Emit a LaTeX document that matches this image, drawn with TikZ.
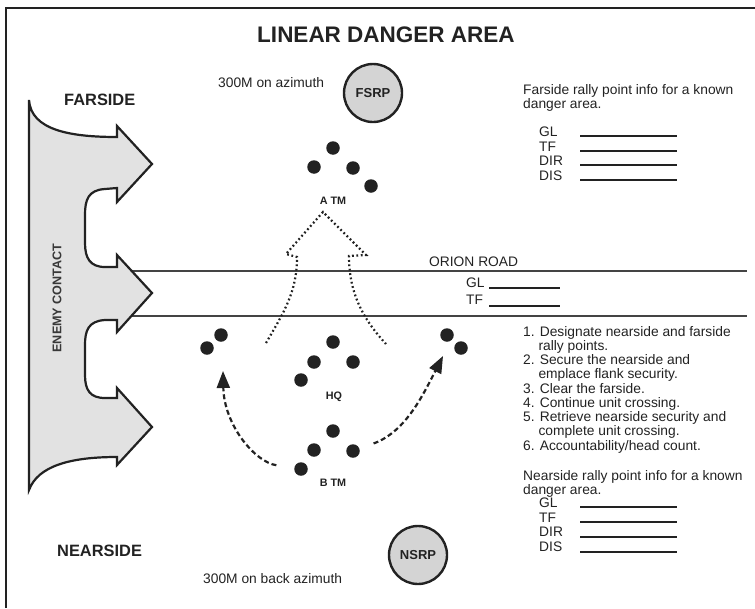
\documentclass[tikz,border=0pt]{standalone}
\usepackage{fontspec}
\setmainfont{Liberation Sans}
\usetikzlibrary{positioning, arrows.meta}
\definecolor{ldInk}{HTML}{222222}
\definecolor{ldRally}{HTML}{D4D4D4}
\definecolor{ldEnemy}{HTML}{E2E2E2}
\definecolor{ldRoad}{HTML}{444444}

\begin{document}
\begin{tikzpicture}[x=1pt, y=-1pt,
  soldier/.style={circle, fill=ldInk, inner sep=0pt, minimum size=13.5pt},
  rp/.style={circle, draw=ldInk, line width=2.4pt, fill=ldRally, minimum size=58pt, inner sep=0pt, text=ldInk, font=\bfseries\fontsize{13}{13}\selectfont},
  side/.style={anchor=base west, inner sep=0pt, text=ldInk, font=\bfseries\fontsize{16.4}{16}\selectfont},
  team/.style={inner sep=0pt, text=ldInk, font=\bfseries\fontsize{10.8}{11}\selectfont},
  txt/.style={anchor=base west, inner sep=0pt, text=ldInk, font=\fontsize{13.8}{14}\selectfont},
  info/.style={anchor=north west, inner sep=0pt, align=left, text=ldInk, font=\fontsize{13.8}{11.5}\selectfont},
  form/.style={anchor=north west, inner sep=0pt, align=left, text=ldInk, font=\fontsize{13.8}{14.4}\selectfont},
  blank/.style={draw=ldInk, line width=1.2pt},
  move/.style={draw=ldInk, line width=2.2pt, dash pattern=on 5pt off 3pt, -{Triangle[length=17pt, width=13pt]}},
  trail/.style={draw=ldInk, line width=2.2pt, dash pattern=on 1.8pt off 2.6pt}
]
\useasboundingbox (0,0) rectangle (755,608);
\draw[ldInk, line width=2pt] (6,608) -- (6,8) -- (755,8);

\node[anchor=base, inner sep=0pt, text=ldInk, font=\bfseries\fontsize{22.5}{22}\selectfont] (title) at (386,42) {LINEAR DANGER AREA};

% road
\draw[ldRoad, line width=1.3pt] (118,271) -- (747,271);
\draw[ldRoad, line width=1.3pt] (118,316) -- (747,316);
\node[txt] (road) at (429,266) {ORION ROAD};
\node[form, font=\fontsize{13.8}{16.5}\selectfont] (rdform) at (466,278) {GL\\TF};
\draw[blank] (489,288) -- (560,288);
\draw[blank] (489,306) -- (560,306);

% enemy contact
\draw[ldInk, line width=2.2pt, fill=ldEnemy, line join=miter]
  (29,100) .. controls (31,130) and (70,137) .. (117,137) -- (117,126) -- (152,164) -- (117,202) -- (117,188)
  -- (105,189) .. controls (88,190) and (85,200) .. (85,215) -- (85,243) .. controls (85,258) and (90,267) .. (105,267) -- (117,267)
  -- (117,255) -- (152,293) -- (117,332) -- (117,320)
  -- (105,320) .. controls (88,321) and (85,331) .. (85,345) -- (85,375) .. controls (85,390) and (90,398) .. (105,398) -- (117,398)
  -- (117,388) -- (152,427) -- (117,465) -- (117,457)
  .. controls (70,457) and (38,466) .. (29,490) -- cycle;
\node[rotate=90, inner sep=0pt, text=ldInk!90, font=\bfseries\fontsize{12.6}{12}\selectfont] (enemy) at (57,298) {ENEMY CONTACT};

% sides
\node[side] (far) at (64,105) {FARSIDE};
\node[side] (near) at (57,556) {NEARSIDE};
\node[txt] (azf) at (218,87) {300M on azimuth};
\node[txt] (azb) at (203,583) {300M on back azimuth};
\node[rp] (fsrp) at (373,93) {FSRP};
\node[rp] (nsrp) at (418,555) {NSRP};

% rally point info
\node[info] (fsinfo) at (523,84) {Farside rally point info for a known\\danger area.};
\node[form] (fsform) at (539,127) {GL\\TF\\DIR\\DIS};
\foreach \y in {136,151,165,180}
  \draw[blank] (580,\y) -- (677,\y);
\node[info, font=\fontsize{13.8}{14.25}\selectfont] (steps) at (523,326) {1. Designate nearside and farside\\\hphantom{1.\ }rally points.\\2. Secure the nearside and\\\hphantom{2.\ }emplace flank security.\\3. Clear the farside.\\4. Continue unit crossing.\\5. Retrieve nearside security and\\\hphantom{5.\ }complete unit crossing.\\6. Accountability/head count.};
\node[info] (nsinfo) at (523,470) {Nearside rally point info for a known\\danger area.};
\node[form] (nsform) at (539,498) {GL\\TF\\DIR\\DIS};
\foreach \y in {507,522,537,552}
  \draw[blank] (580,\y) -- (677,\y);

% teams
\foreach \n/\x/\y in {a1/333/148, a2/314/167, a3/353/168, a4/371/186,
                      h1/333/342, h2/314/362, h3/353/362, h4/301/380,
                      b1/333/431, b2/314/450, b3/353/451, b4/301/469,
                      l1/221/335, l2/207/348, r1/447/335, r2/461/348}
  \node[soldier] (\n) at (\x,\y) {};
\node[team] (atm) at (333,201) {A TM};
\node[team] (hq) at (334,397) {HQ};
\node[team] (btm) at (333,483) {B TM};

% crossing
\draw[trail] (266,343) .. controls (284,312) and (297,292) .. (297,257) -- (286,254) -- (323,212)
  -- (366,255) -- (349,256) .. controls (349,292) and (362,318) .. (386,344);

\coordinate (ltip) at (223,371);
\coordinate (rtip) at (443,356);
\draw[move, shorten <=18pt] (b4) .. controls (255,462) and (224,425) .. (ltip);
\draw[move, shorten <=15pt] (b3) .. controls (405,432) and (422,397) .. (rtip);
\end{tikzpicture}
\end{document}
